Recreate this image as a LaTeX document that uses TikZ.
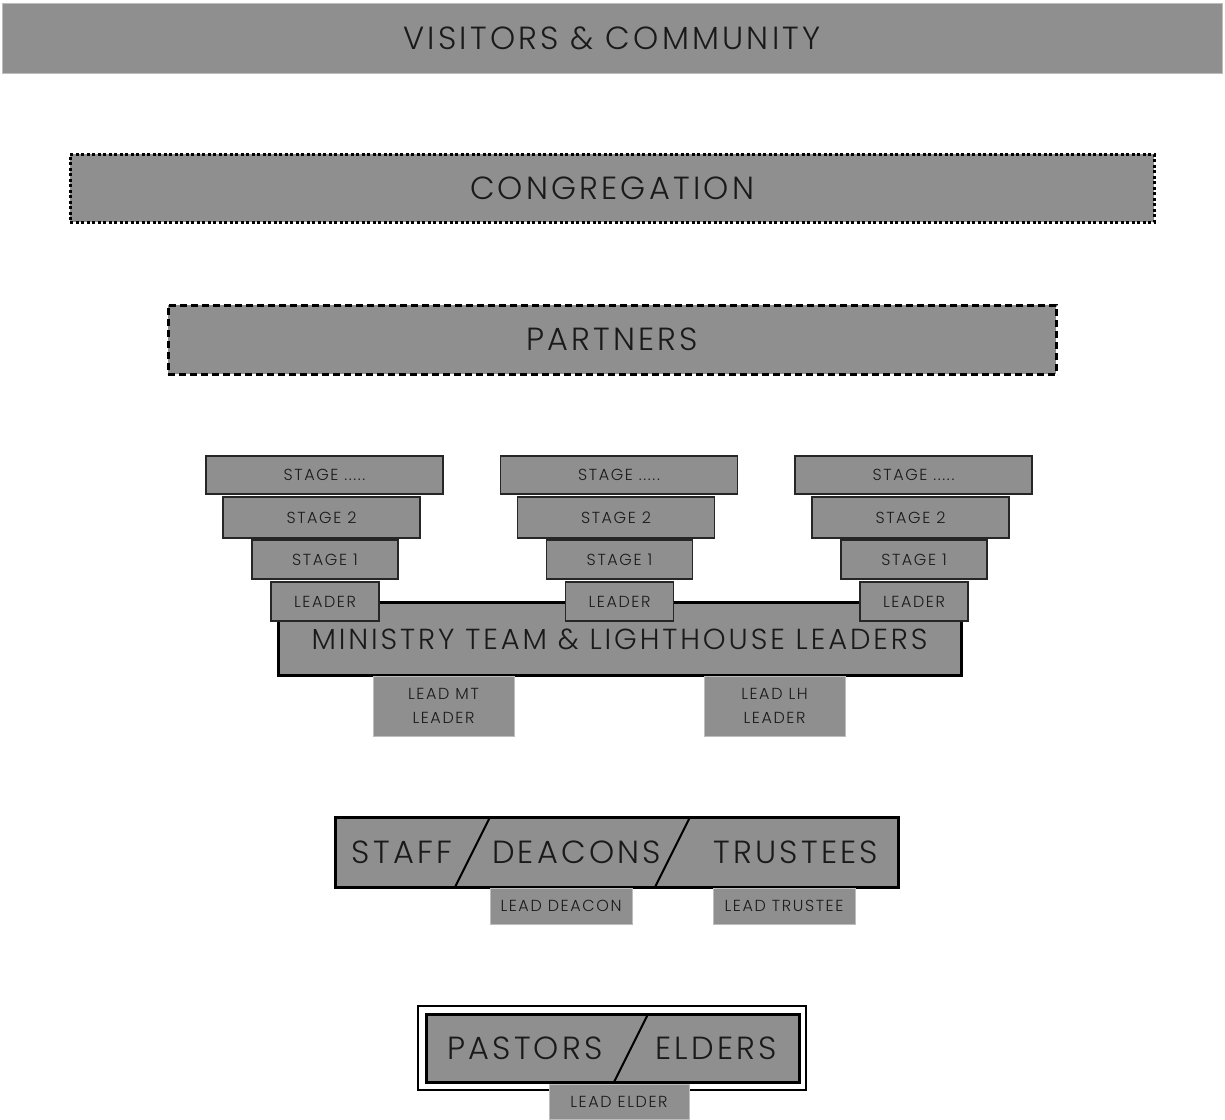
\documentclass[tikz,border=0pt]{standalone}
\usepackage{fontspec}
\IfFontExistsTF{Poppins Light}
  {\setmainfont{Poppins Light}[LetterSpace=10]}
  {\setmainfont{Poppins}[LetterSpace=10]}
\definecolor{boxgray}{HTML}{8F8F8F}
\definecolor{inkgray}{HTML}{1A1A1A}
\definecolor{edgegray}{HTML}{BDBDBD}
\tikzset{
  base/.style={rectangle, inner sep=0pt, fill=boxgray, text=inkgray, align=center},
  plainbar/.style={base, draw=edgegray, line width=0.8pt},
  dotbar/.style={base, draw=black, line width=3pt, dash pattern=on 3pt off 2.5pt},
  dashbar/.style={base, draw=black, line width=3pt, dash pattern=on 7pt off 4pt},
  stagebox/.style={base, draw=black!85, line width=1.4pt, font=\fontsize{16}{18}\selectfont},
  bigbox/.style={base, draw=black, line width=3pt},
  leadbox/.style={base, draw=edgegray, line width=0.8pt, font=\fontsize{16}{24}\selectfont},
  bigtext/.style={font=\fontsize{32}{36}\selectfont},
  midtext/.style={font=\fontsize{29}{32}\selectfont},
  slash/.style={draw=black, line width=2pt}
}
\begin{document}
\begin{tikzpicture}[x=1pt,y=-1pt]
\useasboundingbox (0,0) rectangle (1225,1119);
% top bars
\node[plainbar, bigtext, minimum width=1220pt, minimum height=70pt] (visitors) at (612,38) {VISITORS \& COMMUNITY};
\node[dotbar, bigtext, minimum width=1084pt, minimum height=68pt] (congregation) at (612,188) {CONGREGATION};
\node[dashbar, bigtext, minimum width=888pt, minimum height=69pt] (partners) at (612,339.5) {PARTNERS};
% stage stacks
\foreach \cx/\nm in {0/l, 294.5/m, 589/r}{
  \node[stagebox, minimum width=237pt, minimum height=38pt] (stagen-\nm) at (324.5+\cx,475) {STAGE .....};
  \node[stagebox, minimum width=197pt, minimum height=41pt] (stagetwo-\nm) at (321.5+\cx,517.5) {STAGE 2};
  \node[stagebox, minimum width=146pt, minimum height=39pt] (stageone-\nm) at (325+\cx,559.5) {STAGE 1};
}
% ministry box
\node[bigbox, midtext, minimum width=683pt, minimum height=73pt] (ministry) at (619.5,639) {MINISTRY TEAM \& LIGHTHOUSE LEADERS};
\foreach \cx/\nm in {0/l, 294.5/m, 589/r}{
  \node[stagebox, minimum width=108pt, minimum height=39pt] (leader-\nm) at (325+\cx,601.5) {LEADER};
}
\node[leadbox, minimum width=141pt, minimum height=60pt] (leadmt) at (443.5,706) {LEAD MT\\LEADER};
\node[leadbox, minimum width=141pt, minimum height=60pt] (leadlh) at (774.5,706) {LEAD LH\\LEADER};
% staff / deacons / trustees
\node[bigbox, minimum width=563pt, minimum height=70pt] (staffbox) at (616.5,852) {};
\draw[slash] (455,887) -- (490,817);
\draw[slash] (655,887) -- (690,817);
\node[text=inkgray, font=\fontsize{32}{36}\selectfont] (staff) at (402,852) {STAFF};
\node[text=inkgray, font=\fontsize{32}{36}\selectfont] (deacons) at (576.5,852) {DEACONS};
\node[text=inkgray, font=\fontsize{32}{36}\selectfont] (trustees) at (796,852) {TRUSTEES};
\node[leadbox, minimum width=142pt, minimum height=36pt] (leaddeacon) at (561,906) {LEAD DEACON};
\node[leadbox, minimum width=142pt, minimum height=36pt] (leadtrustee) at (784,906) {LEAD TRUSTEE};
% pastors / elders
\node[rectangle, draw=black, line width=2.2pt, fill=white, minimum width=388pt, minimum height=84pt] (pastorsouter) at (612,1048) {};
\node[bigbox, minimum width=373pt, minimum height=68pt] (pastorsinner) at (612.5,1048) {};
\draw[slash] (614,1082) -- (648,1014);
\node[text=inkgray, font=\fontsize{32}{36}\selectfont] (pastors) at (525,1048) {PASTORS};
\node[text=inkgray, font=\fontsize{32}{36}\selectfont] (elders) at (716,1048) {ELDERS};
\node[leadbox, minimum width=140pt, minimum height=35pt] (leadelder) at (619,1101.5) {LEAD ELDER};
\end{tikzpicture}
\end{document}
